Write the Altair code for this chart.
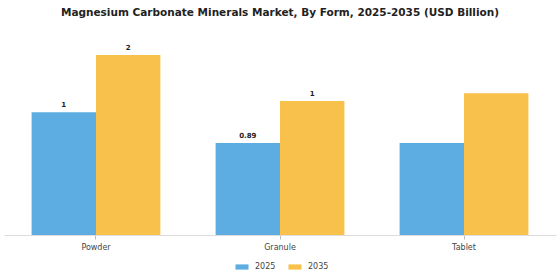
import altair as alt
import pandas as pd

categories = ["Powder", "Granule", "Tablet"]
years = ["2025", "2035"]
values_2025 = [1.185, 0.89, 0.89]
values_2035 = [1.74, 1.295, 1.37]
labels_2025 = ["1", "0.89", ""]
labels_2035 = ["2", "1", ""]
colors = ["#5DADE2", "#F7C14B"]

rows = []
for i, c in enumerate(categories):
    rows.append({"Form": c, "Year": "2025", "Value": values_2025[i], "Label": labels_2025[i]})
    rows.append({"Form": c, "Year": "2035", "Value": values_2035[i], "Label": labels_2035[i]})
df = pd.DataFrame(rows)

x = alt.X("Form:N", sort=categories, title=None,
          scale=alt.Scale(paddingInner=0.3, paddingOuter=0.15),
          axis=alt.Axis(labelAngle=0, labelFontSize=8, labelColor="#444444",
                        labelFont="DejaVu Sans", domainColor="#dddddd",
                        tickColor="#bbbbbb", tickSize=4, labelPadding=4))
xo = alt.XOffset("Year:N", sort=years)
y = alt.Y("Value:Q", scale=alt.Scale(domain=[0, 2.0], nice=False), axis=None)

bars = alt.Chart(df).mark_bar().encode(
    x=x, xOffset=xo, y=y,
    color=alt.Color("Year:N", sort=years,
                    scale=alt.Scale(domain=years, range=colors),
                    legend=alt.Legend(title=None, orient="none", direction="horizontal",
                                      legendX=231, legendY=232,
                                      symbolType="M-1,-0.4L1,-0.4L1,0.4L-1,0.4Z",
                                      symbolSize=170, symbolStrokeWidth=0,
                                      labelFontSize=8, labelColor="#444444",
                                      labelFont="DejaVu Sans", columnPadding=12,
                                      labelOffset=6)),
)

text = alt.Chart(df).mark_text(dy=-7, fontSize=7, fontWeight="bold", color="#222222",
                               font="DejaVu Sans").encode(
    x=x, xOffset=xo, y=y, text="Label:N"
)

chart = alt.layer(bars, text).properties(
    width=552, height=207,
    title=alt.TitleParams("Magnesium Carbonate Minerals Market, By Form, 2025-2035 (USD Billion)",
                          fontSize=10.5, fontWeight="bold", font="DejaVu Sans",
                          color="#222222", anchor="middle", offset=10),
    autosize=alt.AutoSizeParams(type="none"),
    padding={"left": 4, "top": 28, "right": 4, "bottom": 45},
).configure_view(stroke=None)

chart.save("out.html", embed_options={"renderer": "svg", "actions": False})
